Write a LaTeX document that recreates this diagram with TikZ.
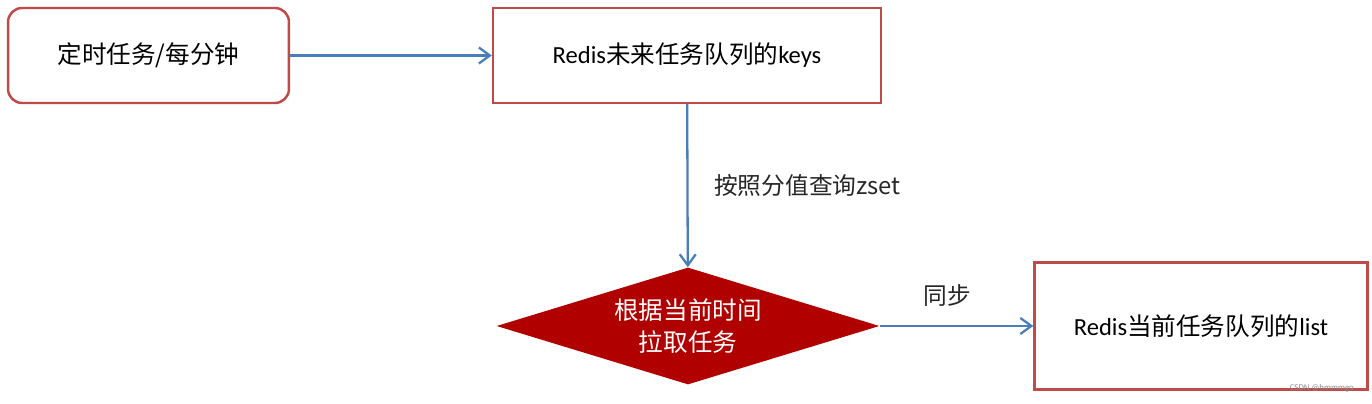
\documentclass[tikz,border=0pt]{standalone}
\usepackage{fontspec}
\setmainfont{Carlito}
\newfontfamily\cjk{Noto Sans CJK SC}
\usetikzlibrary{shapes.geometric,arrows.meta}
\definecolor{boxred}{HTML}{BE4B48}
\definecolor{darkred}{HTML}{B00000}
\definecolor{linkblue}{HTML}{4A7EBB}
\tikzset{
  box/.style={draw=boxred,line width=1.4pt,minimum width=#1,align=center,font=\fontsize{14}{16}\selectfont},
  link/.style={draw=linkblue,line width=1.3pt,-{Straight Barb[length=2.2mm,width=3.2mm]}},
  lbl/.style={font=\cjk\fontsize{13.5}{15}\selectfont,text=black!85}
}
\begin{document}
\begin{tikzpicture}[x=0.02cm,y=-0.02cm]
\useasboundingbox (0,0) rectangle (1372,404);
% boxes
\node[box=5.62cm,rounded corners=8pt,minimum height=1.9cm,font=\cjk\fontsize{14}{16}\selectfont] (timer) at (148.5,55.5) {定时任务/每分钟};
\node[box=7.76cm,minimum height=1.9cm] (future) at (687,55.5) {Redis{\cjk 未来任务队列的}keys};
\node[diamond,fill=darkred,shape aspect=3.27,minimum width=7.66cm,minimum height=2.34cm,inner sep=0pt,
      align=center,text=white,font=\cjk\fontsize{14}{18}\selectfont] (pull) at (688,326) {根据当前时间\\拉取任务};
\node[box=6.66cm,minimum height=2.54cm] (current) at (1201,326) {Redis{\cjk 当前任务队列的}list};
% connectors
\draw[link] (timer) -- (future);
\draw[link] (future) -- (pull);
\draw[link] (pull) -- (current);
% labels
\node[lbl,anchor=west] (zset) at (708,185) {按照分值查询zset};
\node[lbl] (sync) at (947,296) {同步};
\node[font=\fontsize{5}{6}\selectfont,text=black!45,anchor=south east] (mark) at (1360,398) {CSDN @hmmmgo};
\end{tikzpicture}
\end{document}
